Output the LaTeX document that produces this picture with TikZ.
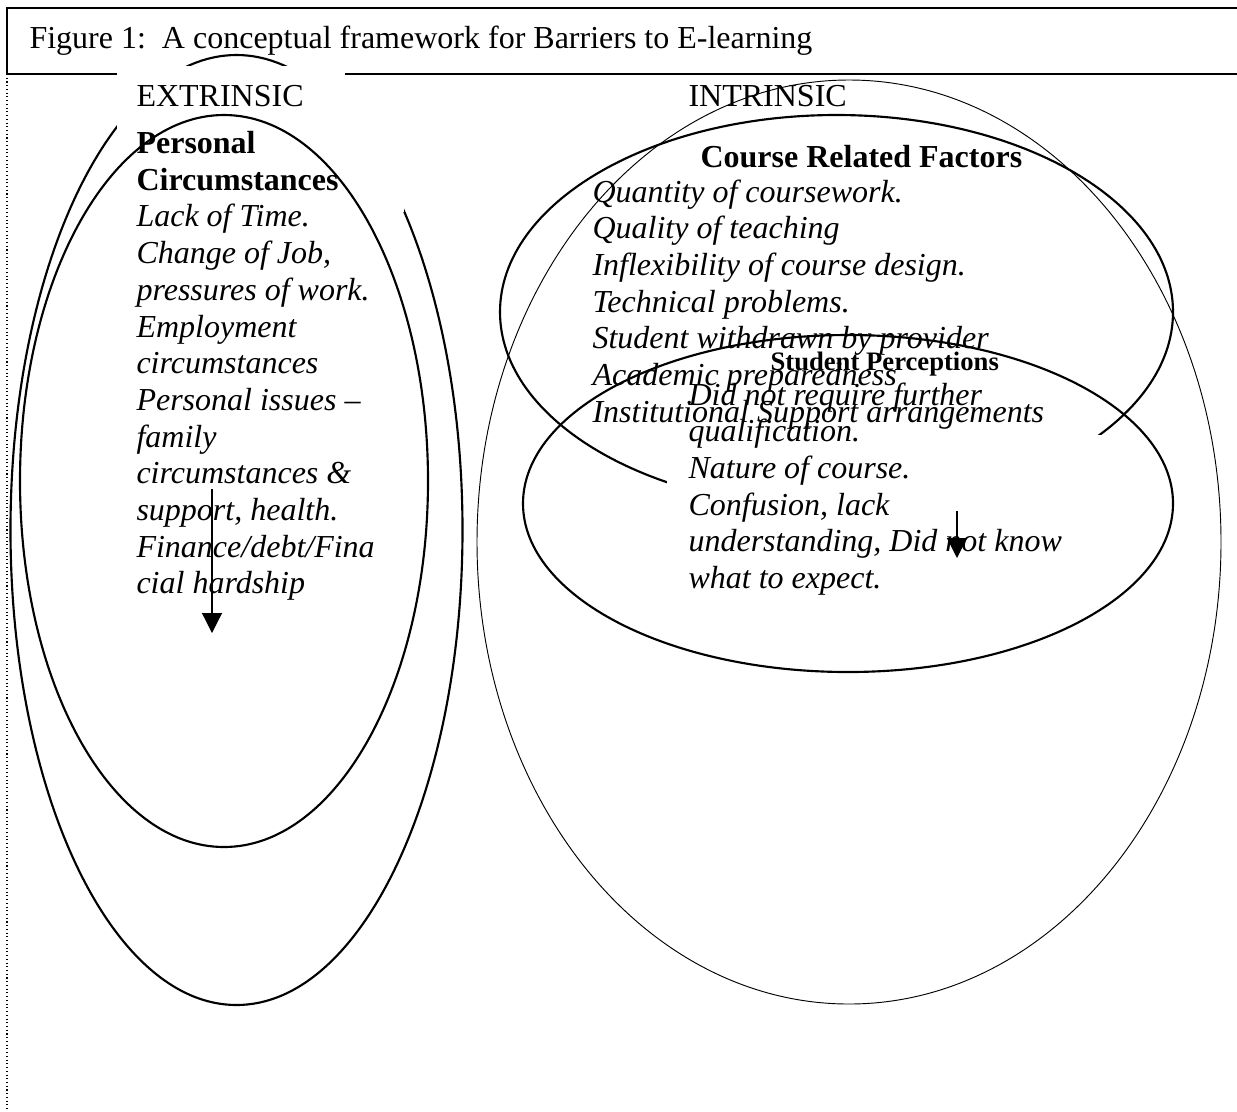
\documentclass[tikz,border=0pt]{standalone}
\usepackage{fontspec}
\setmainfont{Liberation Serif}
\usetikzlibrary{arrows.meta}

\begin{document}
\begin{tikzpicture}
	[x=0.375pt,y=-0.375pt,
	every node/.style={inner sep=0pt,anchor=base west,font=\fontsize{12pt}{14pt}\selectfont},
	ring/.style={line width=0.8pt},
	thinring/.style={line width=0.35pt},
	head/.style={font=\fontsize{12pt}{14pt}\selectfont\bfseries},
	smallhead/.style={font=\fontsize{10pt}{12pt}\selectfont\bfseries},
	item/.style={font=\fontsize{12pt}{14pt}\selectfont\itshape},
	cover/.style={fill=white,draw=none},
	drop/.style={line width=0.45pt,-{Triangle[width=7.5pt,length=7.5pt]}}]
	\useasboundingbox (0,0) rectangle (1237,1111);
	% frame
	\draw[line width=0.7pt] (1240,8) -- (7,8) -- (7,74) -- (1240,74);
	\draw[line width=0.4pt,densely dotted] (7,74) -- (7,1111);
	\node (title) at (29,48) {Figure 1:\ \ A conceptual framework for Barriers to E-learning};
	
	% extrinsic side
	\draw[ring] (236.5,530) ellipse [x radius=226,y radius=475];
	\fill[cover] (117,66) rectangle (345,80);
	\fill[cover] (117,76) rectangle (404,212);
	\draw[ring] (224,481) ellipse [x radius=204,y radius=366];
	\node (extr) at (136,106) {EXTRINSIC};
	\node[head] (pc1) at (136,153.5) {Personal};
	\node[head] (pc2) at (136,190.2) {Circumstances};
	\foreach \txt [count=\i from 3] in {Lack of Time., {Change of Job,}, pressures of work.,
		Employment, circumstances, Personal issues --, family, circumstances \&,
		{support, health.}, Finance/debt/Fina, cial hardship}
	\node[item] (pc\i) at (136,{153.5+36.7*(\i-1)}) {\txt};
	\coordinate (pctop) at (212,489);
	\coordinate (pcend) at (212,633);
	\draw[drop] (pctop) -- (pcend);
	
	% intrinsic side
	\draw[thinring] (849,542) ellipse [x radius=372,y radius=462];
	\draw[ring] (836.5,312) ellipse [x radius=336.5,y radius=197];
	\fill[cover] (667,435) rectangle (1106,515);
	\draw[ring] (848,503.5) ellipse [x radius=325,y radius=168.5];
	\node (intr) at (688,106) {INTRINSIC};
	\node[head] (crf) at (700,167) {Course Related Factors};
	\foreach \txt [count=\i] in {Quantity of coursework., Quality of teaching,
		Inflexibility of course design., Technical problems.,
		Student withdrawn by provider, Academic preparedness,
		Institutional Support arrangements}
	\node[item] (cr\i) at (592,{202+36.7*(\i-1)}) {\txt};
	\node[smallhead] (sp) at (770,370) {Student Perceptions};
	\foreach \txt [count=\i] in {Did not require further, qualification.,
		Nature of course., {Confusion, lack}, {understanding, Did not know},
		what to expect.}
	\node[item] (sp\i) at (688,{405+36.7*(\i-1)}) {\txt};
	\coordinate (sptop) at (957,511);
	\coordinate (spend) at (957,558);
	\draw[drop] (sptop) -- (spend);
\end{tikzpicture}
\end{document}
